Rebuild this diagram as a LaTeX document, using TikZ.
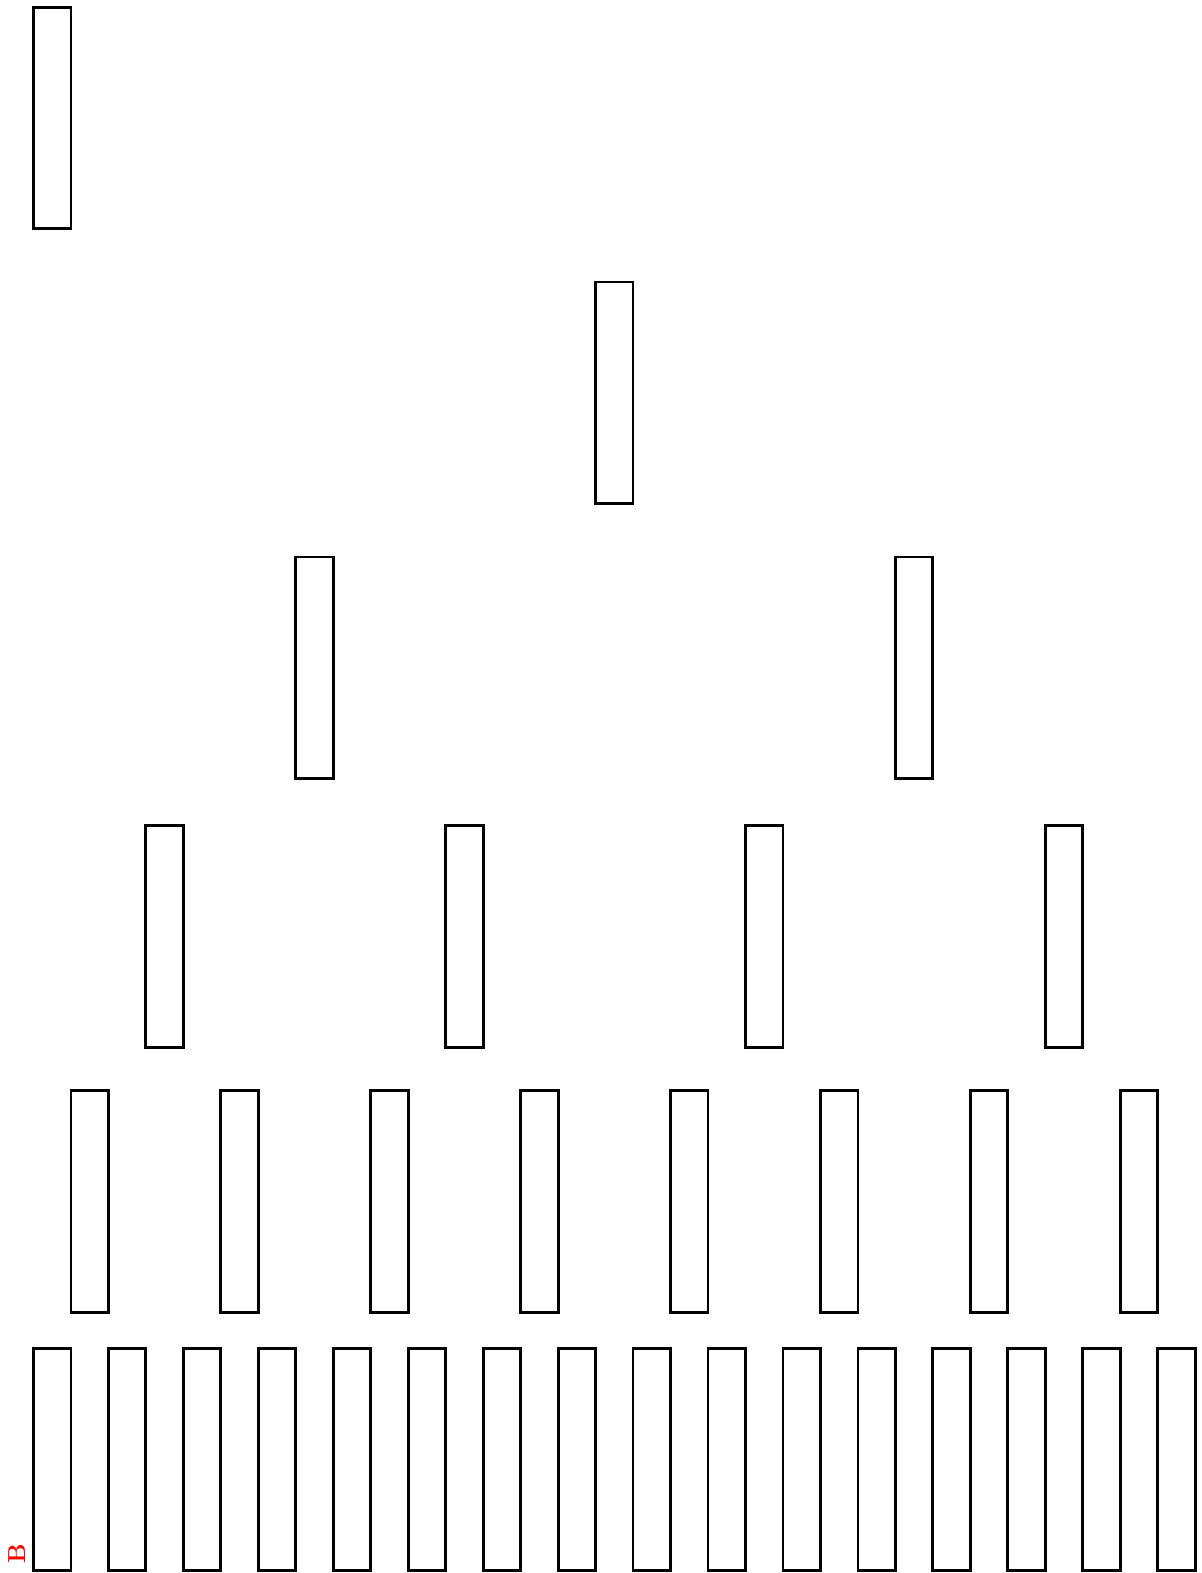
\documentclass[tikz,border=0pt]{standalone}
\usepackage{xcolor}
\usepackage{tikz}
\tikzset{
  blk/.style ={rectangle, draw=black, line width=1.6pt, fill=white,
               minimum width=7.5mm, minimum height=44.3mm, inner sep=0pt},
  lbl/.style ={text=red, font=\bfseries\fontsize{14}{16}\selectfont,
               rotate=90, inner sep=0pt},
}
\begin{document}
\begin{tikzpicture}[x=0.2mm, y=-0.2mm]
\useasboundingbox (0,0) rectangle (1202,1573);
% top node, then one row per level
\node[blk] (r) at (52.2,117.9) {};
\node[blk] (h) at ({52.2+74.95*7.5},392.8) {};
\foreach \k in {0,1} \node[blk] (c\k) at ({52.2+74.95*(8*\k+3.5)},667.7) {};
\foreach \k in {0,...,3} \node[blk] (q\k) at ({52.2+74.95*(4*\k+1.5)},936.6) {};
\foreach \k in {0,...,7} \node[blk] (p\k) at ({52.2+74.95*(2*\k+0.5)},1201.5) {};
\foreach \k in {0,...,15} \node[blk] (l\k) at ({52.2+74.95*\k},1459.4) {};
\node[lbl] (b) at (17.5,1554) {B};
\end{tikzpicture}
\end{document}
